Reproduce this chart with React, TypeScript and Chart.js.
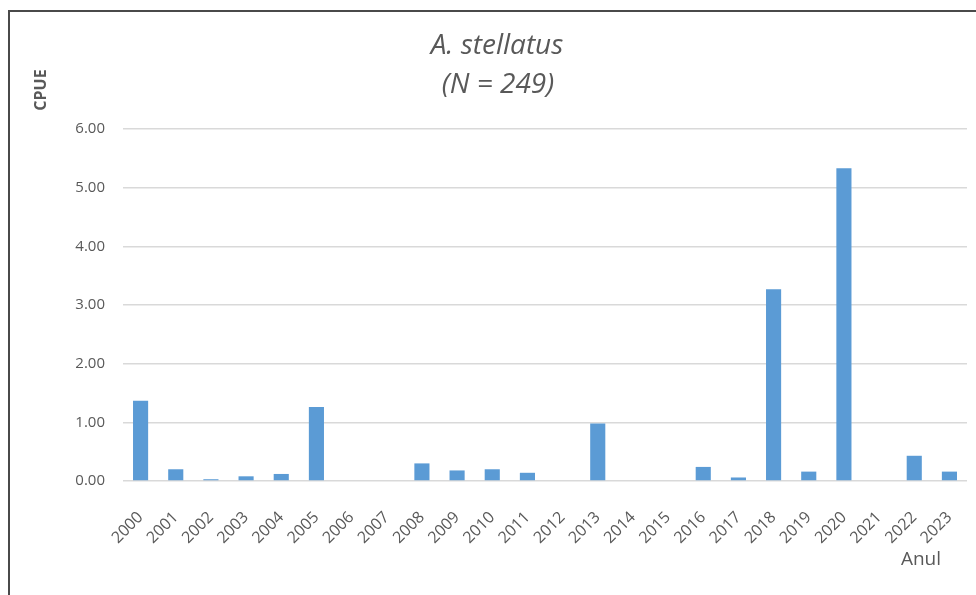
import React, { useEffect, useRef } from "react";
import { Chart, registerables } from "chart.js";

Chart.register(...registerables);

const years = ["2000","2001","2002","2003","2004","2005","2006","2007","2008","2009","2010","2011","2012","2013","2014","2015","2016","2017","2018","2019","2020","2021","2022","2023"];
const cpue = [1.37,0.20,0.03,0.08,0.12,1.26,0,0,0.30,0.18,0.20,0.14,0,0.98,0,0,0.24,0.06,3.27,0.16,5.33,0,0.43,0.16];
const titleLines = ["A. stellatus", "(N = 249)"];
const yTitle = "CPUE";
const xTitle = "Anul";

const TEXT = "#595959";
const FONT = "'Open Sans', 'Noto Sans', sans-serif";

const decor = {
  id: "decor",
  afterDraw(chart: any) {
    const ctx = chart.ctx;
    ctx.save();
    // frame
    ctx.strokeStyle = "#4a4a4a";
    ctx.lineWidth = 2;
    ctx.beginPath();
    ctx.moveTo(9, 600);
    ctx.lineTo(9, 11);
    ctx.lineTo(980, 11);
    ctx.stroke();
    // title
    ctx.fillStyle = TEXT;
    ctx.textAlign = "center";
    ctx.textBaseline = "middle";
    ctx.font = `italic 28px ${FONT}`;
    ctx.fillText(titleLines[0], 497, 46);
    ctx.fillText(titleLines[1], 498, 85);
    // y title
    ctx.save();
    ctx.translate(41, 90);
    ctx.rotate(-Math.PI / 2);
    ctx.font = `bold 16px ${FONT}`;
    ctx.fillText(yTitle, 0, 0);
    ctx.restore();
    // x title
    ctx.font = `19px ${FONT}`;
    ctx.fillText(xTitle, 921, 560);
    ctx.restore();
  },
};

export default function App() {
  const ref = useRef<HTMLCanvasElement>(null);
  useEffect(() => {
    if (!ref.current) return;
    const chart = new Chart(ref.current, {
      type: "bar",
      data: {
        labels: years,
        datasets: [
          {
            data: cpue,
            backgroundColor: "#5B9BD5",
            borderWidth: 0,
            categoryPercentage: 1,
            barPercentage: 0.43,
          },
        ],
      },
      plugins: [decor],
      options: {
        animation: false,
        responsive: true,
        maintainAspectRatio: false,
        layout: { padding: { top: 129, right: 9, left: 0, bottom: 0 } },
        plugins: { legend: { display: false }, tooltip: { enabled: false }, title: { display: false } },
        scales: {
          x: {
            grid: { display: false, drawTicks: false },
            border: { display: false },
            ticks: {
              color: TEXT,
              font: { family: FONT, size: 16 },
              minRotation: 45,
              maxRotation: 45,
              padding: 27,
              autoSkip: false,
            },
            afterFit: (s: any) => {
              s.height = 114;
              s.paddingLeft = 0;
              s.paddingRight = 0;
            },
          },
          y: {
            min: 0,
            max: 6,
            grid: { color: "#d9d9d9", lineWidth: 1.5, drawTicks: false },
            border: { display: false },
            ticks: {
              stepSize: 1,
              color: TEXT,
              font: { family: FONT, size: 15 },
              padding: 18,
              callback: (v: any) => Number(v).toFixed(2),
            },
            afterFit: (s: any) => { s.width = 123; },
          },
        },
      },
    });
    return () => chart.destroy();
  }, []);
  return (
    <div style={{ position: "fixed", left: 0, top: 0, width: 976, height: 595, background: "#fff" }}>
      <canvas ref={ref} />
    </div>
  );
}
